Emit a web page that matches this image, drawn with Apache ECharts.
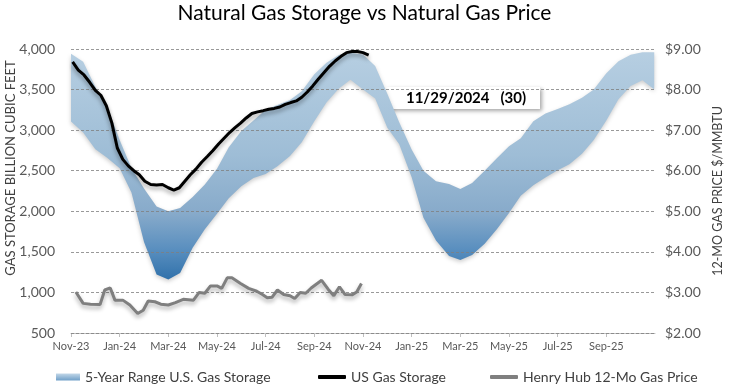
<!DOCTYPE html>
<html><head><meta charset="utf-8">
<script src="https://cdn.jsdelivr.net/npm/echarts@6/dist/echarts.min.js"></script>
<style>html,body{margin:0;padding:0;background:#fff}#c{width:729px;height:392px}</style>
</head><body><div id="c"></div>
<script>
// ---- data ----
const xTickLabels = ['Nov-23','Jan-24','Mar-24','May-24','Jul-24','Sep-24','Nov-24','Jan-25','Mar-25','May-25','Jul-25','Sep-25'];
const leftTicks = [500, 4000, 500];   // min, max, step
const rightTicks = [2, 9, 1];

const bandDates = ['2023-11-01','2023-11-16','2023-12-01','2023-12-16','2024-01-01','2024-01-16','2024-02-01','2024-02-16','2024-03-01','2024-03-16','2024-04-01','2024-04-16','2024-05-01','2024-05-16','2024-06-01','2024-06-16','2024-07-01','2024-07-16','2024-08-01','2024-08-16','2024-09-01','2024-09-16','2024-10-01','2024-10-16','2024-11-01','2024-11-16','2024-12-01','2024-12-16','2025-01-01','2025-01-16','2025-02-01','2025-02-16','2025-03-01','2025-03-16','2025-04-01','2025-04-16','2025-05-01','2025-05-16','2025-06-01','2025-06-16','2025-07-01','2025-07-16','2025-08-01','2025-08-16','2025-09-01','2025-09-16','2025-10-01','2025-10-16','2025-10-31'];
const bandMax = [3942,3843,3534,3290,2880,2534,2280,2060,2000,2040,2175,2330,2525,2790,2990,3120,3250,3310,3370,3480,3690,3830,3925,3955,3932,3790,3450,3100,2760,2500,2370,2336,2275,2350,2500,2655,2800,2900,3110,3205,3260,3320,3400,3500,3700,3850,3930,3960,3960];
const bandMin = [3106,2970,2765,2660,2530,2230,1620,1220,1160,1240,1550,1780,1970,2160,2310,2410,2460,2555,2680,2850,3110,3340,3510,3620,3500,3390,3030,2830,2420,1920,1640,1450,1400,1460,1600,1780,1980,2190,2320,2415,2505,2580,2710,2880,3120,3380,3545,3615,3500];

const storageDates = ['2023-11-03','2023-11-10','2023-11-17','2023-11-24','2023-12-01','2023-12-08','2023-12-15','2023-12-22','2023-12-29','2024-01-05','2024-01-12','2024-01-19','2024-01-26','2024-02-02','2024-02-09','2024-02-16','2024-02-23','2024-03-01','2024-03-08','2024-03-15','2024-03-22','2024-03-29','2024-04-05','2024-04-12','2024-04-19','2024-04-26','2024-05-03','2024-05-10','2024-05-17','2024-05-24','2024-05-31','2024-06-07','2024-06-14','2024-06-21','2024-06-28','2024-07-05','2024-07-12','2024-07-19','2024-07-26','2024-08-02','2024-08-09','2024-08-16','2024-08-23','2024-08-30','2024-09-06','2024-09-13','2024-09-20','2024-09-27','2024-10-04','2024-10-11','2024-10-18','2024-10-25','2024-11-01','2024-11-08'];
const storageValues = [3840,3740,3680,3590,3490,3430,3300,3090,2780,2640,2560,2500,2450,2370,2330,2325,2330,2290,2262,2290,2370,2450,2520,2605,2675,2750,2830,2900,2970,3030,3086,3150,3205,3225,3240,3258,3268,3285,3318,3340,3360,3405,3470,3545,3630,3710,3790,3855,3910,3955,3968,3968,3955,3925];

const priceDates = ['2023-11-07','2023-11-16','2023-11-25','2023-12-07','2023-12-13','2023-12-20','2023-12-26','2024-01-05','2024-01-14','2024-01-24','2024-01-31','2024-02-06','2024-02-14','2024-02-21','2024-03-01','2024-03-10','2024-03-20','2024-04-02','2024-04-09','2024-04-16','2024-04-23','2024-05-01','2024-05-07','2024-05-14','2024-05-20','2024-05-31','2024-06-10','2024-06-20','2024-06-27','2024-07-03','2024-07-09','2024-07-16','2024-07-24','2024-08-01','2024-08-07','2024-08-14','2024-08-21','2024-08-28','2024-09-10','2024-09-18','2024-09-25','2024-10-02','2024-10-09','2024-10-18','2024-10-24','2024-10-30'];
const priceValues = [3.01,2.73,2.71,2.70,3.06,3.11,2.81,2.81,2.69,2.48,2.56,2.79,2.77,2.71,2.69,2.75,2.83,2.81,3.00,2.98,3.16,3.16,3.10,3.36,3.36,3.22,3.10,3.03,2.95,2.87,2.88,3.06,2.95,2.92,2.85,3.00,2.98,3.11,3.30,3.08,2.92,3.14,2.95,2.94,3.01,3.22];

const annotationText = '11/29/2024   (30)';
// ---------------

function mIdx(s){const [y,mo,d]=s.split('-').map(Number);const dim=new Date(y,mo,0).getDate();return (y-2023)*12+(mo-11)+(d-1)/dim;}
const FONT = 'Lato';
const tickVals = xTickLabels.map((_,i)=>i*2);

const chart = echarts.init(document.getElementById('c'), null, {renderer:'canvas'});
const bandLegendGrad = new echarts.graphic.LinearGradient(0,0,0,1,[{offset:0,color:'#c2d7e8'},{offset:1,color:'#6f9fc8'}]);
const legendText = {fontFamily:FONT,fontSize:14,color:'#404040'};

chart.setOption({
  animation:false,
  backgroundColor:'#fff',
  textStyle:{fontFamily:FONT},
  title:{text:'Natural Gas Storage vs Natural Gas Price',left:'center',top:3,padding:0,textStyle:{fontFamily:FONT,fontSize:21,fontWeight:'normal',color:'#000'}},
  grid:{left:71,right:74,top:49,bottom:59},
  legend:[
    {left:56,top:370,padding:0,itemWidth:24,itemHeight:7,textStyle:legendText,
     data:[{name:'5-Year Range U.S. Gas Storage',icon:'rect',itemStyle:{color:bandLegendGrad}}]},
    {left:318,top:370,padding:0,itemWidth:28,itemHeight:4,textStyle:legendText,
     data:[{name:'US Gas Storage',icon:'roundRect'}]},
    {left:490,top:370,padding:0,itemWidth:28,itemHeight:4,textStyle:legendText,
     data:[{name:'Henry Hub 12-Mo Gas Price',icon:'roundRect'}]}
  ],
  xAxis:{type:'value',min:0,max:24,interval:2,
    axisLine:{show:true,lineStyle:{color:'#bfbfbf',width:1}},
    axisTick:{show:true,length:4,lineStyle:{color:'#bfbfbf'},customValues:tickVals},
    axisLabel:{customValues:tickVals,fontSize:11,color:'#595959',margin:8,formatter:v=>xTickLabels[Math.round(v/2)]||''},
    splitLine:{show:false}},
  yAxis:[
    {type:'value',min:leftTicks[0],max:leftTicks[1],interval:leftTicks[2],z:3,
     axisLine:{show:false},axisTick:{show:false},
     axisLabel:{fontSize:14,color:'#595959',margin:16,formatter:v=>v.toLocaleString('en-US')},
     splitLine:{show:true,lineStyle:{color:'#7f7f7f',type:[3,2],width:0.8}}},
    {type:'value',min:rightTicks[0],max:rightTicks[1],interval:rightTicks[2],position:'right',
     axisLine:{show:false},axisTick:{show:false},
     axisLabel:{fontSize:14,color:'#595959',margin:10,formatter:v=>'$'+v.toFixed(2)},
     splitLine:{show:false}}
  ],
  graphic:[
    {type:'text',x:11,y:168,rotation:Math.PI/2,style:{text:'GAS STORAGE BILLION CUBIC FEET',fontFamily:FONT,fontSize:13,fill:'#404040',align:'center',verticalAlign:'middle'}},
    {type:'text',x:718,y:191,rotation:Math.PI/2,style:{text:'12-MO GAS PRICE $/MMBTU',fontFamily:FONT,fontSize:12.5,fill:'#404040',align:'center',verticalAlign:'middle'}},
    {type:'group',z:100,children:[
      {type:'rect',shape:{x:386,y:87,width:154,height:22},style:{fill:'#fff',shadowBlur:4,shadowOffsetX:2,shadowOffsetY:2,shadowColor:'rgba(0,0,0,0.35)'}},
      {type:'text',x:466,y:98,style:{text:annotationText,fontFamily:FONT,fontSize:15,fontWeight:'bold',fill:'#000',align:'center',verticalAlign:'middle'}}
    ]}
  ],
  series:[
    {name:'5-Year Range U.S. Gas Storage',type:'custom',yAxisIndex:0,z:1,
     itemStyle:{color:'#8fb3d1'},
     data:bandDates.map((d,i)=>[mIdx(d),bandMax[i],bandMin[i]]),
     renderItem:function(params,api){
       if(params.dataIndex!==0) return null;
       const pts=[];
       for(let i=0;i<bandDates.length;i++) pts.push(api.coord([mIdx(bandDates[i]),bandMax[i]]));
       for(let i=bandDates.length-1;i>=0;i--) pts.push(api.coord([mIdx(bandDates[i]),bandMin[i]]));
       const y0=api.coord([0,4000])[1], y1=api.coord([0,1100])[1];
       const grad=new echarts.graphic.LinearGradient(0,y0,0,y1,[
         {offset:0,color:'#b7cfe2'},{offset:0.45,color:'#9ebdd6'},{offset:0.7,color:'#87aaca'},{offset:0.85,color:'#5a8fbf'},{offset:1,color:'#2a6da8'}],true);
       return {type:'polygon',shape:{points:pts},style:{fill:grad,shadowBlur:4,shadowOffsetY:2,shadowColor:'rgba(0,0,0,0.2)'}};
     }},
    {name:'US Gas Storage',type:'line',yAxisIndex:0,z:5,showSymbol:false,symbol:'none',
     data:storageDates.map((d,i)=>[mIdx(d),storageValues[i]]),
     lineStyle:{color:'#000',width:3,shadowBlur:4,shadowOffsetY:3,shadowColor:'rgba(0,0,0,0.35)'},itemStyle:{color:'#000'}},
    {name:'Henry Hub 12-Mo Gas Price',type:'line',yAxisIndex:1,z:4,showSymbol:false,symbol:'none',
     data:priceDates.map((d,i)=>[mIdx(d),priceValues[i]]),
     lineStyle:{color:'#7f7f7f',width:3,shadowBlur:4,shadowOffsetY:3,shadowColor:'rgba(0,0,0,0.3)'},itemStyle:{color:'#7f7f7f'}}
  ]
});
</script></body></html>
